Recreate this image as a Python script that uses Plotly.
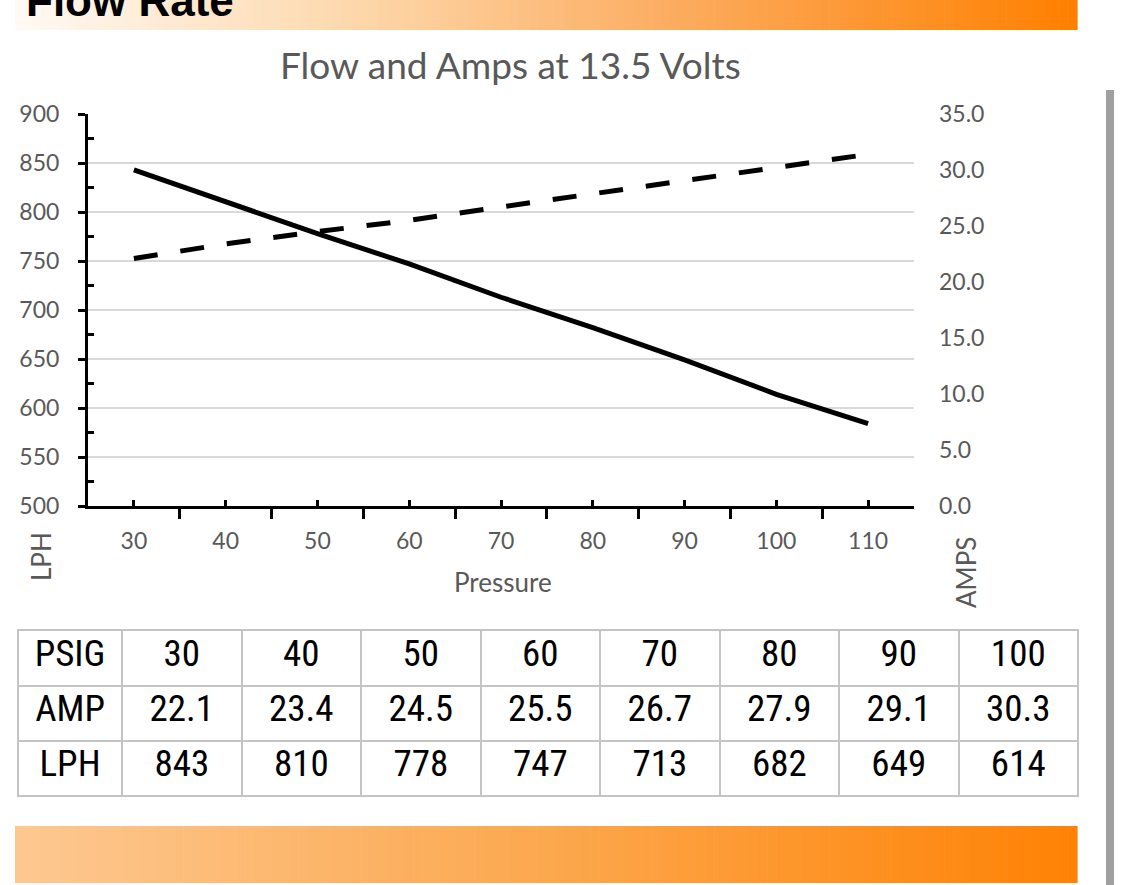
import plotly.graph_objects as go

# ---------------- data ----------------
pressure = [30, 40, 50, 60, 70, 80, 90, 100, 110]
amps = [22.1, 23.4, 24.5, 25.5, 26.7, 27.9, 29.1, 30.3, 31.4]
lph = [843, 810, 778, 747, 713, 682, 649, 614, 584]

table_psig = [30, 40, 50, 60, 70, 80, 90, 100]
table_amp = [22.1, 23.4, 24.5, 25.5, 26.7, 27.9, 29.1, 30.3]
table_lph = [843, 810, 778, 747, 713, 682, 649, 614]

W, H = 1125, 885


def px(x):
    return x / W


def py(y):
    return 1 - y / H


GRAY = "#595959"
FONT = "Lato, Carlito, 'Open Sans', sans-serif"
TFONT = "'Liberation Sans Narrow', 'Arial Narrow', 'Roboto Condensed', Roboto, sans-serif"

fig = go.Figure()

fig.add_trace(go.Scatter(
    x=pressure, y=lph, mode="lines", name="LPH",
    line=dict(color="black", width=5), xaxis="x", yaxis="y",
    showlegend=False, hoverinfo="skip"))
fig.add_trace(go.Scatter(
    x=pressure, y=amps, mode="lines", name="AMPS",
    line=dict(color="black", width=5, dash="24px,23px"), xaxis="x", yaxis="y2",
    showlegend=False, hoverinfo="skip"))

# table
hdr = ["PSIG"] + [str(v) for v in table_psig]
cols = [["AMP", "LPH"]] + [[f"{a:.1f}", str(l)] for a, l in zip(table_amp, table_lph)]
fig.add_trace(go.Table(
    domain=dict(x=[px(18), px(1078)], y=[py(799), py(630)]),
    columnwidth=[104] + [119.4] * 8,
    header=dict(values=hdr, height=55.5, align="center",
                fill=dict(color="white"), line=dict(color="#c4c4c4", width=2),
                font=dict(family=TFONT, size=37, color="black")),
    cells=dict(values=cols, height=55, align="center",
               fill=dict(color="white"), line=dict(color="#c4c4c4", width=2),
               font=dict(family=TFONT, size=37, color="black")),
))

# ---------------- decorations ----------------
shapes = []


def lerp_stops(stops, t):
    for (t0, c0), (t1, c1) in zip(stops[:-1], stops[1:]):
        if t <= t1:
            f = (t - t0) / (t1 - t0) if t1 > t0 else 0
            return tuple(round(a + (b - a) * f) for a, b in zip(c0, c1))
    return stops[-1][1]


def gradient_bar(x0, x1, y0, y1, stops, n=120):
    step = (x1 - x0) / n
    for i in range(n):
        t = (i + 0.5) / n
        r, g, b = lerp_stops(stops, t)
        shapes.append(dict(type="rect", xref="paper", yref="paper",
                           x0=px(x0 + i * step), x1=px(x0 + (i + 1) * step + 0.6),
                           y0=py(y1), y1=py(y0), line=dict(width=0),
                           fillcolor=f"rgb({r},{g},{b})", layer="below"))


top_stops = [(0, (255, 250, 244)), (0.3, (253, 218, 176)), (0.65, (252, 168, 88)), (1, (255, 128, 0))]
bot_stops = [(0, (253, 200, 145)), (0.5, (252, 168, 78)), (1, (255, 130, 4))]
gradient_bar(15, 1077, 0, 30, top_stops)
gradient_bar(15, 1077, 826, 883, bot_stops)

# scrollbar
shapes.append(dict(type="rect", xref="paper", yref="paper",
                   x0=px(1106), x1=px(1114), y0=py(885), y1=py(90),
                   line=dict(width=0), fillcolor="#a0a0a0"))

annotations = [
    dict(text="<b>Flow Rate</b>", x=px(24), y=py(27), xref="paper", yref="paper",
         xanchor="left", yanchor="bottom", showarrow=False,
         font=dict(family="Arial, 'Liberation Sans', sans-serif", size=44, color="black")),
    dict(text="Flow and Amps at 13.5 Volts", x=px(510), y=py(64), xref="paper", yref="paper",
         xanchor="center", yanchor="middle", showarrow=False,
         font=dict(family=FONT, size=37, color=GRAY)),
    dict(text="Pressure", x=px(503), y=py(582), xref="paper", yref="paper",
         xanchor="center", yanchor="middle", showarrow=False,
         font=dict(family=FONT, size=26, color=GRAY)),
    dict(text="LPH", x=px(41), y=py(557), xref="paper", yref="paper", textangle=-90,
         xanchor="center", yanchor="middle", showarrow=False,
         font=dict(family=FONT, size=26, color=GRAY)),
    dict(text="AMPS", x=px(966), y=py(573), xref="paper", yref="paper", textangle=-90,
         xanchor="center", yanchor="middle", showarrow=False,
         font=dict(family=FONT, size=26, color=GRAY)),
]

tickfont = dict(family=FONT, size=23, color=GRAY)

fig.update_layout(
    width=W, height=H, margin=dict(l=0, r=0, t=0, b=0, autoexpand=False),
    paper_bgcolor="white", plot_bgcolor="white",
    shapes=shapes, annotations=annotations, showlegend=False,
    xaxis=dict(domain=[px(88), px(914)], range=[25, 115], anchor="y",
               tickmode="array", tickvals=pressure, ticktext=[str(v) for v in pressure],
               ticks="inside", ticklen=6, tickwidth=3, tickcolor="black",
               showline=True, linecolor="black", linewidth=3, showgrid=False,
               zeroline=False, tickfont=tickfont, ticklabelstandoff=12,
               minor=dict(tickmode="linear", tick0=25, dtick=10, ticks="outside",
                          ticklen=10, tickwidth=3, tickcolor="black", showgrid=False)),
    yaxis=dict(domain=[py(506), py(114)], range=[500, 900], anchor="x",
               tickmode="linear", tick0=500, dtick=50,
               ticks="outside", ticklen=7, tickwidth=3, tickcolor="black",
               showline=True, linecolor="black", linewidth=3,
               showgrid=True, gridcolor="#d9d9d9", gridwidth=2, zeroline=False,
               tickfont=tickfont, ticklabelstandoff=14,
               minor=dict(tickmode="linear", tick0=525, dtick=50, ticks="inside",
                          ticklen=6, tickwidth=3, tickcolor="black", showgrid=False)),
    yaxis2=dict(domain=[py(506), py(114)], range=[0, 35], overlaying="y", side="right",
                anchor="x", tickmode="linear", tick0=0, dtick=5, tickformat=".1f",
                ticks="", showline=False, showgrid=False, zeroline=False,
                tickfont=tickfont, ticklabelstandoff=24),
    yaxis3=dict(domain=[py(506), py(114)], range=[500, 900], overlaying="y", side="left",
                anchor="x", tickmode="linear", tick0=500, dtick=50,
                ticks="inside", ticklen=5, tickwidth=3, tickcolor="black",
                showticklabels=False, showline=False, showgrid=False, zeroline=False),
)

fig.write_html("out.html")
